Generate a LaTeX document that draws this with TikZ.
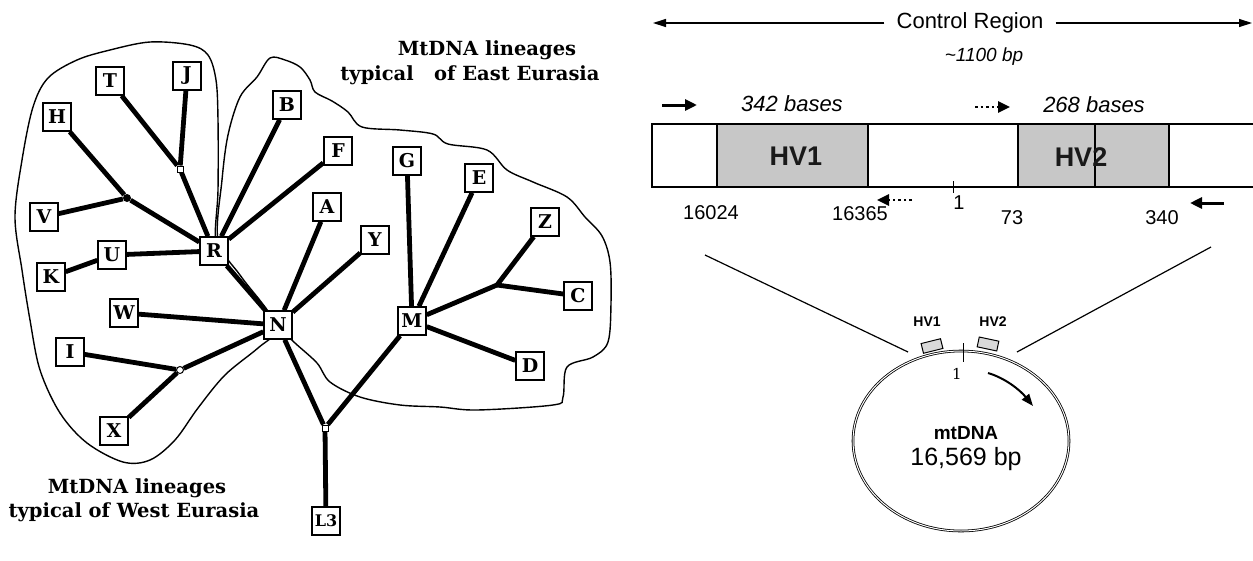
\documentclass[tikz,border=0pt]{standalone}
\usepackage{fontspec}
\setmainfont{DejaVu Serif}
\setsansfont{Liberation Sans}
\usetikzlibrary{backgrounds,arrows.meta,shapes.geometric}
\tikzset{
  lin/.style={draw, line width=1.5pt, fill=white, minimum width=28pt, minimum height=28pt,
    inner sep=0pt, font=\fontsize{19}{19}\selectfont\bfseries},
  treeedge/.style={line width=4.8pt},
  bound/.style={line width=1.4pt, smooth cycle, tension=0.55},
  regionlabel/.style={inner sep=0pt, font=\fontsize{19.5}{23}\selectfont\bfseries},
  sanslabel/.style={font=\sffamily\fontsize{20}{20}\selectfont, inner sep=0pt},
  thinarrow/.style={line width=1.3pt, -{Triangle[length=13pt,width=8pt]}},
  fatarrow/.style={line width=3pt, -{Triangle[length=12pt,width=11pt]}},
  dotarrow/.style={line width=2.6pt, dash pattern=on 2.6pt off 3pt, -{Triangle[length=12pt,width=11pt]}},
  hvshade/.style={fill=black!22, draw, line width=1.2pt},
  hvtext/.style={font=\sffamily\bfseries\fontsize{27}{27}\selectfont, text=black!90},
  minibox/.style={draw, line width=1pt, fill=black!15, minimum width=20pt, minimum height=10pt, inner sep=0pt},
}
\begin{document}
\begin{tikzpicture}[x=1pt,y=-1pt]
\useasboundingbox (0,0) rectangle (1253,560);

% ---------- tree nodes ----------
\node[lin] (T) at (110,81) {T};
\node[lin] (J) at (187,76) {J};
\node[lin] (H) at (57,117) {H};
\node[lin] (B) at (287,105) {B};
\node[lin] (F) at (338,151) {F};
\node[lin] (G) at (407,161) {G};
\node[lin] (E) at (479,178) {E};
\node[lin] (A) at (327,207) {A};
\node[lin] (Y) at (375,240) {Y};
\node[lin] (V) at (44,217) {V};
\node[lin] (U) at (112,255) {U};
\node[lin] (K) at (51,277) {K};
\node[lin] (R) at (214,251) {R};
\node[lin] (Z) at (545,222) {Z};
\node[lin] (C) at (578,296) {C};
\node[lin] (W) at (124,313) {W};
\node[lin] (N) at (278,325) {N};
\node[lin] (M) at (412,321) {M};
\node[lin] (I) at (70,352) {I};
\node[lin] (D) at (530,366) {D};
\node[lin] (X) at (114,431) {X};
\node[lin, font=\fontsize{16}{16}\selectfont\bfseries] (L3) at (326,521) {L3};

\node[circle, fill=black, inner sep=0pt, minimum size=8pt] (j1) at (127,198) {};
\node[draw, fill=white, line width=1pt, inner sep=0pt, minimum size=6pt] (j2) at (180,169) {};
\node[draw, circle, fill=white, line width=1pt, inner sep=0pt, minimum size=7pt] (j3) at (180,370) {};
\node[draw, fill=white, line width=1pt, inner sep=0pt, minimum size=6pt] (j4) at (325,428) {};
\coordinate (j5) at (497,285);

\node[regionlabel] (eastlab1) at (487,50) {MtDNA lineages};
\node[regionlabel] (eastlab2) at (470,75) {typical\ \ \ of East Eurasia};
\node[regionlabel] (westlab1) at (137,488) {MtDNA lineages};
\node[regionlabel] (westlab2) at (134,512) {typical of West Eurasia};

\begin{pgfonlayer}{background}
% region boundaries
\draw[bound] plot coordinates {(216,245) (218,190) (218,120) (216,80) (208,55) (190,45)
  (150,42) (110,50) (77,60) (48,78) (33,107) (22,160) (15,217) (22,270) (30,320) (40,370)
  (60,413) (87,443) (123,462) (150,460) (175,440) (198,408) (225,375) (258,348) (278,328)
  (256,300) (234,275)};
\draw[bound] plot coordinates {(218,240) (222,180) (228,135) (240,97) (257,77) (270,58)
  (285,60) (300,67) (310,80) (315,92) (332,101) (348,112) (362,127) (400,130) (433,134)
  (448,144) (487,150) (507,170) (533,182) (567,197) (585,217) (602,236) (610,262) (611,303)
  (608,342) (593,357) (567,367) (563,397) (553,405) (477,410) (440,407) (400,405) (360,397)
  (330,382) (317,363) (295,343) (282,330) (262,303) (240,275)};
% tree edges
\draw[treeedge] (H) -- (j1) -- (R);
\draw[treeedge] (V) -- (j1);
\draw[treeedge] (T) -- (j2) -- (R);
\draw[treeedge] (J) -- (j2);
\draw[treeedge] (B) -- (R);
\draw[treeedge] (F) -- (R);
\draw[treeedge] (K) -- (U) -- (R);
\draw[treeedge] (R) -- (N);
\draw[treeedge] (W) -- (N);
\draw[treeedge] (I) -- (j3) -- (N);
\draw[treeedge] (X) -- (j3);
\draw[treeedge] (A) -- (N);
\draw[treeedge] (Y) -- (N);
\draw[treeedge] (N) -- (j4) -- (L3);
\draw[treeedge] (j4) -- (M);
\draw[treeedge] (G) -- (M);
\draw[treeedge] (E) -- (M);
\draw[treeedge] (Z) -- (j5) -- (M);
\draw[treeedge] (C) -- (j5);
\draw[treeedge] (D) -- (M);
\end{pgfonlayer}

% ---------- control region ----------
\node[sanslabel, font=\sffamily\fontsize{22}{22}\selectfont] (ctrl) at (970,23) {Control Region};
\coordinate (ctrlL) at (653,23);
\coordinate (ctrlR) at (1252,23);
\draw[thinarrow] (ctrl.west) ++(-12,0) coordinate (cl) (cl) -- (ctrlL);
\draw[thinarrow] (ctrl.east) ++(12,0) coordinate (cr) (cr) -- (ctrlR);
\node[sanslabel, font=\sffamily\itshape\fontsize{19}{19}\selectfont] (bp) at (984,57) {\textasciitilde1100 bp};

\node[sanslabel, font=\sffamily\itshape\fontsize{22}{22}\selectfont] (b342) at (792,104) {342 bases};
\node[sanslabel, font=\sffamily\itshape\fontsize{22}{22}\selectfont] (b268) at (1094,105) {268 bases};
\coordinate (fa1) at (662,105); \coordinate (fa2) at (697,105);
\draw[fatarrow] (fa1) -- (fa2);
\coordinate (da1) at (975,107); \coordinate (da2) at (1010,107);
\draw[dotarrow] (da1) -- (da2);

% box
\draw[hvshade] (717,124) rectangle (868,187);
\draw[hvshade] (1018,124) rectangle (1169,187);
\draw[line width=1.4pt] (1095,124) -- (1095,187);
\draw[line width=1.6pt] (1258,124) -- (652,124) -- (652,187) -- (1258,187);
\node[hvtext] (hv1) at (796,156) {HV1};
\node[hvtext] (hv2) at (1081,157) {HV2};
\draw[line width=1pt] (953,181) -- (953,193);

\node[sanslabel] (n16024) at (711,213) {16024};
\node[sanslabel] (n16365) at (860,214) {16365};
\node[sanslabel] (n1) at (959,203) {1};
\node[sanslabel] (n73) at (1012,218) {73};
\node[sanslabel] (n340) at (1162,218) {340};
\coordinate (dl1) at (912,200); \coordinate (dl2) at (877,200);
\draw[dotarrow] (dl1) -- (dl2);
\coordinate (fl1) at (1224,203); \coordinate (fl2) at (1190,203);
\draw[fatarrow] (fl1) -- (fl2);

% ---------- circle ----------
\coordinate (lnA) at (705,255); \coordinate (lnB) at (908,352);
\coordinate (rnA) at (1211,247); \coordinate (rnB) at (1017,352);
\draw[line width=1.2pt] (lnA) -- (lnB);
\draw[line width=1.2pt] (rnA) -- (rnB);
\node[draw, ellipse, line width=0.8pt, double, double distance=1pt, minimum width=216pt, minimum height=180pt] (mt) at (961,441) {};
\node[minibox, rotate=14] (hvb1) at (932,346) {};
\node[minibox, rotate=-12] (hvb2) at (988,344) {};
\node[font=\sffamily\bfseries\fontsize{14}{14}\selectfont, inner sep=0pt] (hvl1) at (927,322) {HV1};
\node[font=\sffamily\bfseries\fontsize{14}{14}\selectfont, inner sep=0pt] (hvl2) at (993,322) {HV2};
\coordinate (tk1) at (963,343); \coordinate (tk2) at (963,362);
\draw[line width=1pt] (tk1) -- (tk2);
\node[font=\fontsize{15}{15}\selectfont, inner sep=0pt] (one) at (957,374) {1};
\coordinate (ca1) at (988,373); \coordinate (ca2) at (1033,406);
\draw[line width=2pt, -{Triangle[length=12pt,width=9pt]}] (ca1) .. controls (1005,378) and (1020,390) .. (ca2);
\node[font=\sffamily\bfseries\fontsize{19}{19}\selectfont, inner sep=0pt] (mtl) at (966,433) {mtDNA};
\node[font=\sffamily\fontsize{25}{25}\selectfont, inner sep=0pt] (bpl) at (966,459) {16,569 bp};
\end{tikzpicture}
\end{document}
